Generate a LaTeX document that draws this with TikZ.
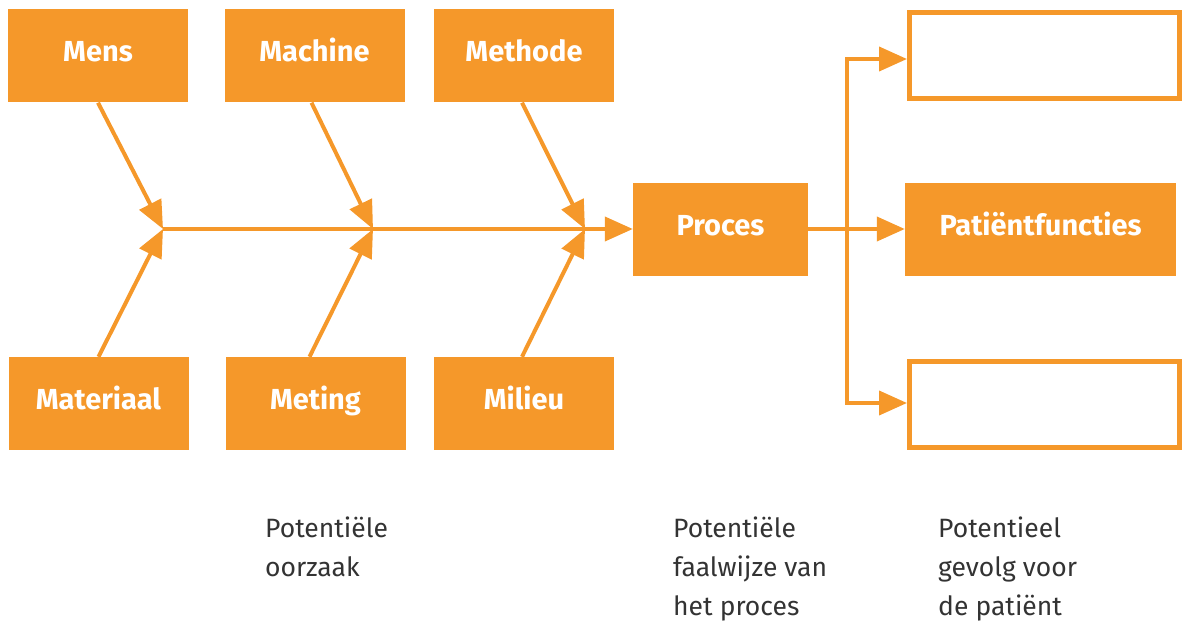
\documentclass[tikz,border=0pt]{standalone}
\usepackage{fontspec}
\setmainfont{Fira Sans}
\usetikzlibrary{arrows.meta}
\definecolor{org}{HTML}{F5982A}
\definecolor{txt}{HTML}{333333}
\tikzset{
  box/.style={fill=org, minimum width=180pt, minimum height=93pt, inner sep=0pt, text height=20pt, text depth=8pt, text=white, font=\fontsize{29}{32}\selectfont\bfseries},
  hollow/.style={draw=org, line width=5pt, fill=white, minimum width=270pt, minimum height=86pt, inner sep=0pt},
  conn/.style={draw=org, line width=4pt, -{Triangle[length=28pt,width=24pt]}},
  plain/.style={draw=org, line width=4pt},
  note/.style={text=txt, font=\fontsize{26.5}{39}\selectfont, align=left, anchor=north west, inner sep=0pt}
}
\begin{document}
\begin{tikzpicture}[x=1pt,y=-1pt]
\useasboundingbox (0,0) rectangle (1188,623);
% cause boxes
\node[box] (mens) at (98,56) {Mens};
\node[box] (machine) at (314.5,56) {Machine};
\node[box] (methode) at (524,56) {Methode};
\node[box] (materiaal) at (98.5,403.5) {Materiaal};
\node[box] (meting) at (315.5,403.5) {Meting};
\node[box] (milieu) at (524,403.5) {Milieu};
% process and effects
\node[box, minimum width=175pt] (proces) at (720.5,229) {Proces};
\node[box, minimum width=271pt] (pf) at (1040.5,229) {Patiëntfuncties};
\node[hollow] (top) at (1044.5,55.5) {};
\node[hollow] (bot) at (1044.5,404.5) {};
% spine junctions
\coordinate (j1) at (163,229);
\coordinate (j2) at (373,229);
\coordinate (j3) at (585,229);
\draw[plain] (j1) -- (j3);
\draw[conn] (j3) -- (proces.west);
\draw[conn] (mens.south) -- (j1);
\draw[conn] (materiaal.north) -- (j1);
\draw[conn] ([xshift=-3pt]machine.south) -- (j2);
\draw[conn] ([xshift=-6pt]meting.north) -- (j2);
\draw[conn] ([xshift=-2pt]methode.south) -- (j3);
\draw[conn] ([xshift=-2pt]milieu.north) -- (j3);
% effects branch
\coordinate (vt) at (847,59);
\coordinate (vb) at (847,403);
\draw[conn] (proces.east) -- (pf.west);
\draw[plain, line cap=rect] (vt) -- (vb);
\draw[conn] (vt) -- (vt -| top.west);
\draw[conn] (vb) -- (vb -| bot.west);
% notes
\node[note] (n1) at (265,517) {Potentiële\\oorzaak};
\node[note] (n2) at (673,517) {Potentiële\\faalwijze van\\het proces};
\node[note] (n3) at (938,517) {Potentieel\\gevolg voor\\de patiënt};
\end{tikzpicture}
\end{document}
